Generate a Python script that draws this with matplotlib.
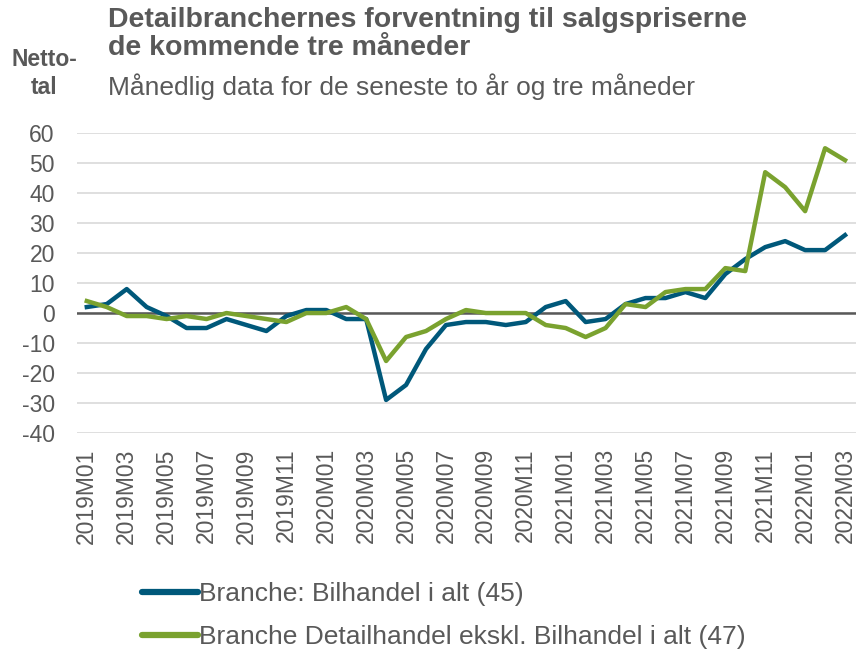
import matplotlib
matplotlib.use("Agg")
import matplotlib.pyplot as plt
import numpy as np

plt.rcParams['font.family'] = ['Liberation Sans', 'DejaVu Sans']

months = [f"{y}M{m:02d}" for y in (2019, 2020, 2021) for m in range(1, 13)] + ["2022M01", "2022M02", "2022M03"]
bilhandel = [2, 3, 8, 2, -1, -5, -5, -2, -4, -6, -1, 1, 1, -2, -2, -29, -24, -12, -4, -3,
             -3, -4, -3, 2, 4, -3, -2, 3, 5, 5, 7, 5, 13, 18, 22, 24, 21, 21, 26]
detail = [4, 2, -1, -1, -2, -1, -2, 0, -1, -2, -3, 0, 0, 2, -2, -16, -8, -6, -2, 1,
          0, 0, 0, -4, -5, -8, -5, 3, 2, 7, 8, 8, 15, 14, 47, 42, 34, 55, 51]
series_names = ["Branche: Bilhandel i alt (45)", "Branche Detailhandel ekskl. Bilhandel i alt (47)"]
yticks = list(range(-40, 61, 10))

TXT = "#595959"
fig = plt.figure(figsize=(8.56, 6.5), dpi=100)
ax = fig.add_axes([0.09, 0.334, 0.91, 0.461])

x = np.arange(len(months))
blue = "#00587a"
green = "#7aa22f"
l1, = ax.plot(x, bilhandel, color=blue, lw=3.2, solid_joinstyle='round', zorder=3)
l2, = ax.plot(x, detail, color=green, lw=3.2, solid_joinstyle='round', zorder=4)

ax.set_ylim(-40, 60)
ax.set_xlim(-0.49, 38.55)
ax.set_yticks(yticks)
ax.set_yticklabels([str(v) for v in yticks], fontsize=16.5, color=TXT)
ax.set_xticks(x[::2])
ax.set_xticklabels(months[::2], rotation=90, fontsize=16.5, color=TXT)
ax.tick_params(axis='y', length=0, pad=16)
ax.tick_params(axis='x', length=0, pad=11)
ax.yaxis.grid(True, color="#d9d9d9", lw=1.2)
ax.set_axisbelow(True)
ax.axhline(0, color="#595959", lw=1.8, zorder=2)
for s in ax.spines.values():
    s.set_visible(False)

fig.text(108/856, 1-20/650, "Detailbranchernes forventning til salgspriserne",
         fontsize=20.5, fontweight='bold', color=TXT, va='center', ha='left')
fig.text(108/856, 1-48/650, "de kommende tre måneder",
         fontsize=20.5, fontweight='bold', color=TXT, va='center', ha='left')
fig.text(108/856, 1-87/650, "Månedlig data for de seneste to år og tre måneder",
         fontsize=19, color=TXT, va='center', ha='left')
fig.text(44/856, 1-60/650, "Netto-", fontsize=16.5, fontweight='bold', color=TXT, ha='center', va='center')
fig.text(44/856, 1-88/650, "tal", fontsize=16.5, fontweight='bold', color=TXT, ha='center', va='center')

fig.legend([l1, l2], series_names, loc='upper left', bbox_to_anchor=(124/856, 1-564/650),
           frameon=False, fontsize=19, handlelength=2.1, handletextpad=0.05,
           labelspacing=0.7, labelcolor=TXT, borderpad=0.2)
for h in fig.legends[0].legend_handles:
    h.set_linewidth(4.5)
    h.set_solid_capstyle('round')

fig.savefig("out.png", dpi=100)
